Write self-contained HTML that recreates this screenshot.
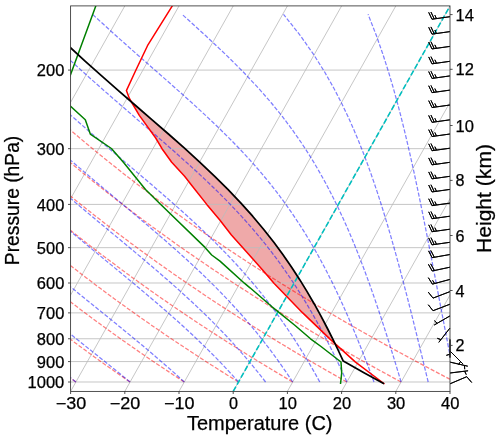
<!DOCTYPE html><html><head><meta charset="utf-8"><title>Skew-T</title><style>html,body{margin:0;padding:0;background:#fff;overflow:hidden}svg{display:block;will-change:transform}</style></head><body><svg width="500" height="439" viewBox="0 0 500 439"><defs><clipPath id="ax"><rect x="70.6" y="5.9" width="379.4" height="385.5"/></clipPath><clipPath id="bb"><rect x="412.06" y="-24.94" width="75.88" height="447.18"/></clipPath></defs><rect width="500" height="439" fill="#fff"/><g clip-path="url(#ax)"><path d="M334.95,343.55 L334.91,343.47 L334.82,343.27 L334.72,343.08 L334.63,342.88 L334.53,342.69 L334.44,342.49 L334.34,342.3 L334.25,342.1 L334.16,341.9 L334.06,341.71 L333.97,341.51 L333.87,341.32 L333.78,341.12 L333.68,340.93 L333.59,340.73 L333.49,340.54 L333.4,340.34 L333.31,340.14 L333.21,339.95 L333.12,339.75 L333.02,339.56 L332.95,339.4 L332.93,339.36 L332.83,339.17 L332.73,338.97 L332.7,338.9 L332.63,338.78 L332.53,338.58 L332.44,338.38 L332.34,338.19 L332.24,337.99 L332.14,337.8 L332.04,337.6 L331.94,337.41 L331.85,337.21 L331.75,337.02 L331.65,336.82 L331.55,336.62 L331.45,336.43 L331.35,336.23 L331.26,336.04 L331.16,335.84 L331.06,335.65 L330.96,335.45 L330.86,335.25 L330.76,335.06 L330.67,334.86 L330.57,334.67 L330.47,334.47 L330.37,334.28 L330.27,334.08 L330.17,333.89 L330.08,333.69 L329.98,333.49 L329.88,333.3 L329.78,333.1 L329.68,332.91 L329.58,332.71 L329.49,332.52 L329.39,332.32 L329.29,332.13 L329.19,331.93 L329.09,331.73 L328.99,331.54 L328.9,331.34 L328.8,331.15 L328.7,330.95 L328.6,330.76 L328.5,330.56 L328.4,330.36 L328.3,330.17 L328.21,329.97 L328.11,329.78 L328.01,329.58 L327.91,329.39 L327.81,329.19 L327.71,329 L327.62,328.8 L327.52,328.6 L327.42,328.41 L327.32,328.21 L327.22,328.02 L327.21,328 L327.12,327.82 L327.02,327.63 L326.91,327.43 L326.81,327.24 L326.71,327.04 L326.61,326.84 L326.5,326.65 L326.4,326.45 L326.3,326.26 L326.19,326.06 L326.09,325.87 L325.99,325.67 L325.89,325.47 L325.78,325.28 L325.68,325.08 L325.58,324.89 L325.48,324.69 L325.37,324.5 L325.27,324.3 L325.17,324.11 L325.06,323.91 L324.96,323.71 L324.86,323.52 L324.76,323.32 L324.65,323.13 L324.55,322.93 L324.45,322.74 L324.34,322.54 L324.24,322.35 L324.14,322.15 L324.04,321.95 L323.93,321.76 L323.83,321.56 L323.73,321.37 L323.62,321.17 L323.52,320.98 L323.42,320.78 L323.32,320.58 L323.21,320.39 L323.11,320.19 L323.01,320 L322.9,319.8 L322.8,319.61 L322.7,319.41 L322.6,319.22 L322.49,319.02 L322.39,318.82 L322.29,318.63 L322.18,318.43 L322.08,318.24 L321.98,318.04 L321.88,317.85 L321.77,317.65 L321.67,317.46 L321.57,317.26 L321.46,317.06 L321.36,316.87 L321.26,316.67 L321.16,316.48 L321.05,316.28 L320.95,316.09 L320.85,315.9 L320.85,315.89 L320.74,315.69 L320.63,315.5 L320.52,315.3 L320.42,315.11 L320.31,314.91 L320.2,314.72 L320.09,314.52 L319.98,314.33 L319.88,314.13 L319.77,313.93 L319.66,313.74 L319.55,313.54 L319.44,313.35 L319.34,313.15 L319.23,312.96 L319.12,312.76 L319.01,312.57 L318.92,312.4 L318.9,312.37 L318.8,312.17 L318.69,311.98 L318.58,311.78 L318.47,311.59 L318.36,311.39 L318.26,311.2 L318.15,311 L318.04,310.8 L317.93,310.61 L317.83,310.41 L317.72,310.22 L317.61,310.02 L317.5,309.83 L317.39,309.63 L317.29,309.44 L317.18,309.24 L317.07,309.04 L316.96,308.85 L316.85,308.65 L316.75,308.46 L316.64,308.26 L316.53,308.07 L316.42,307.87 L316.31,307.68 L316.21,307.48 L316.1,307.28 L315.99,307.09 L315.88,306.89 L315.77,306.7 L315.67,306.5 L315.56,306.31 L315.45,306.11 L315.34,305.91 L315.24,305.72 L315.13,305.52 L315.02,305.33 L314.91,305.13 L314.8,304.94 L314.7,304.74 L314.59,304.55 L314.48,304.35 L314.4,304.2 L314.37,304.15 L314.26,303.96 L314.14,303.76 L314.03,303.57 L313.92,303.37 L313.8,303.18 L313.69,302.98 L313.57,302.79 L313.46,302.59 L313.35,302.39 L313.23,302.2 L313.12,302 L313.01,301.81 L312.89,301.61 L312.78,301.42 L312.67,301.22 L312.55,301.03 L312.44,300.83 L312.32,300.63 L312.21,300.44 L312.1,300.24 L311.98,300.05 L311.87,299.85 L311.76,299.66 L311.64,299.46 L311.53,299.26 L311.41,299.07 L311.3,298.87 L311.19,298.68 L311.07,298.48 L310.96,298.29 L310.85,298.09 L310.73,297.9 L310.62,297.7 L310.51,297.5 L310.39,297.31 L310.28,297.11 L310.16,296.92 L310.05,296.72 L309.94,296.53 L309.82,296.33 L309.71,296.14 L309.6,295.94 L309.48,295.74 L309.37,295.55 L309.25,295.35 L309.14,295.16 L309.03,294.96 L308.91,294.77 L308.8,294.57 L308.69,294.37 L308.57,294.18 L308.46,293.98 L308.35,293.79 L308.23,293.59 L308.12,293.4 L308,293.2 L307.89,293.01 L307.78,292.81 L307.66,292.61 L307.55,292.42 L307.44,292.22 L307.32,292.03 L307.21,291.83 L307.09,291.64 L307.07,291.6 L306.98,291.44 L306.86,291.25 L306.73,291.05 L306.61,290.85 L306.49,290.66 L306.37,290.46 L306.25,290.27 L306.13,290.07 L306.01,289.88 L305.89,289.68 L305.77,289.48 L305.65,289.29 L305.53,289.09 L305.41,288.9 L305.29,288.7 L305.17,288.51 L305.05,288.31 L304.93,288.12 L304.81,287.92 L304.69,287.72 L304.57,287.53 L304.45,287.33 L304.33,287.14 L304.21,286.94 L304.09,286.75 L303.97,286.55 L303.85,286.36 L303.73,286.16 L303.61,285.96 L303.49,285.77 L303.37,285.57 L303.25,285.38 L303.13,285.18 L303.01,284.99 L302.89,284.79 L302.77,284.59 L302.65,284.4 L302.53,284.2 L302.41,284.01 L302.29,283.81 L302.17,283.62 L302.09,283.5 L302.05,283.42 L301.93,283.23 L301.8,283.03 L301.68,282.83 L301.56,282.64 L301.44,282.44 L301.32,282.25 L301.2,282.05 L301.08,281.86 L300.96,281.66 L300.84,281.47 L300.72,281.27 L300.6,281.07 L300.48,280.88 L300.36,280.68 L300.24,280.49 L300.12,280.29 L300,280.1 L299.88,279.9 L299.76,279.7 L299.64,279.51 L299.57,279.4 L299.52,279.31 L299.39,279.12 L299.26,278.92 L299.13,278.73 L299.01,278.53 L298.88,278.34 L298.75,278.14 L298.63,277.94 L298.5,277.75 L298.37,277.55 L298.24,277.36 L298.12,277.16 L297.99,276.97 L297.86,276.77 L297.73,276.58 L297.61,276.38 L297.48,276.18 L297.35,275.99 L297.22,275.79 L297.1,275.6 L296.97,275.4 L296.84,275.21 L296.71,275.01 L296.59,274.81 L296.46,274.62 L296.33,274.42 L296.2,274.23 L296.08,274.03 L295.95,273.84 L295.82,273.64 L295.7,273.45 L295.57,273.25 L295.44,273.05 L295.31,272.86 L295.19,272.66 L295.06,272.47 L294.93,272.27 L294.8,272.08 L294.68,271.88 L294.55,271.69 L294.42,271.49 L294.29,271.29 L294.17,271.1 L294.04,270.9 L293.91,270.71 L293.78,270.51 L293.66,270.32 L293.53,270.12 L293.45,270 L293.4,269.92 L293.27,269.73 L293.15,269.53 L293.02,269.34 L292.89,269.14 L292.77,268.95 L292.64,268.75 L292.51,268.56 L292.38,268.36 L292.26,268.16 L292.13,267.97 L292,267.77 L291.87,267.58 L291.75,267.38 L291.63,267.2 L291.62,267.19 L291.48,266.99 L291.35,266.8 L291.21,266.6 L291.08,266.4 L290.94,266.21 L290.81,266.01 L290.67,265.82 L290.53,265.62 L290.4,265.43 L290.26,265.23 L290.13,265.04 L289.99,264.84 L289.86,264.64 L289.72,264.45 L289.59,264.25 L289.45,264.06 L289.32,263.86 L289.18,263.67 L289.05,263.47 L288.91,263.27 L288.77,263.08 L288.64,262.88 L288.5,262.69 L288.37,262.49 L288.23,262.3 L288.1,262.1 L287.96,261.91 L287.83,261.71 L287.69,261.51 L287.56,261.32 L287.42,261.12 L287.29,260.93 L287.15,260.73 L287.01,260.54 L286.88,260.34 L286.74,260.15 L286.61,259.95 L286.47,259.75 L286.34,259.56 L286.2,259.36 L286.09,259.2 L286.07,259.17 L285.93,258.97 L285.8,258.78 L285.66,258.58 L285.52,258.38 L285.39,258.19 L285.25,257.99 L285.12,257.8 L284.98,257.6 L284.85,257.41 L284.71,257.21 L284.58,257.02 L284.44,256.82 L284.31,256.62 L284.17,256.43 L284.04,256.23 L283.9,256.04 L283.76,255.84 L283.63,255.65 L283.49,255.45 L283.36,255.26 L283.22,255.06 L283.09,254.86 L282.95,254.67 L282.84,254.5 L282.82,254.47 L282.67,254.28 L282.53,254.08 L282.38,253.89 L282.24,253.69 L282.09,253.49 L281.95,253.3 L281.81,253.1 L281.66,252.91 L281.52,252.71 L281.37,252.52 L281.23,252.32 L281.09,252.13 L280.94,251.93 L280.8,251.73 L280.65,251.54 L280.51,251.34 L280.36,251.15 L280.22,250.95 L280.08,250.76 L279.93,250.56 L279.79,250.37 L279.64,250.17 L279.5,249.97 L279.36,249.78 L279.21,249.58 L279.07,249.39 L278.92,249.19 L278.78,249 L278.64,248.8 L278.49,248.6 L278.35,248.41 L278.2,248.21 L278.06,248.02 L277.91,247.82 L277.77,247.63 L277.63,247.43 L277.6,247.4 L277.48,247.24 L277.34,247.04 L277.19,246.84 L277.05,246.65 L276.91,246.45 L276.76,246.26 L276.62,246.06 L276.47,245.87 L276.33,245.67 L276.18,245.48 L276.04,245.28 L275.9,245.08 L275.75,244.89 L275.61,244.69 L275.46,244.5 L275.32,244.3 L275.18,244.11 L275.03,243.91 L274.89,243.71 L274.74,243.52 L274.6,243.32 L274.45,243.13 L274.31,242.93 L274.17,242.74 L274.02,242.54 L273.88,242.35 L273.84,242.3 L273.73,242.15 L273.57,241.95 L273.42,241.76 L273.27,241.56 L273.11,241.37 L272.96,241.17 L272.8,240.98 L272.65,240.78 L272.5,240.59 L272.34,240.39 L272.19,240.19 L272.04,240 L271.88,239.8 L271.73,239.61 L271.57,239.41 L271.42,239.22 L271.27,239.02 L271.11,238.82 L270.96,238.63 L270.81,238.43 L270.65,238.24 L270.5,238.04 L270.35,237.85 L270.19,237.65 L270.04,237.46 L269.88,237.26 L269.73,237.06 L269.58,236.87 L269.42,236.67 L269.27,236.48 L269.12,236.28 L268.96,236.09 L268.81,235.89 L268.65,235.7 L268.5,235.5 L268.35,235.3 L268.19,235.11 L268.11,235 L268.04,234.91 L267.89,234.72 L267.73,234.52 L267.58,234.33 L267.42,234.13 L267.27,233.93 L267.12,233.74 L266.96,233.54 L266.81,233.35 L266.66,233.15 L266.5,232.96 L266.35,232.76 L266.2,232.57 L266.04,232.37 L265.89,232.17 L265.73,231.98 L265.58,231.78 L265.43,231.59 L265.27,231.39 L265.12,231.2 L264.97,231 L264.81,230.81 L264.66,230.61 L264.5,230.41 L264.35,230.22 L264.2,230.02 L264.04,229.83 L263.89,229.63 L263.74,229.44 L263.58,229.24 L263.55,229.2 L263.42,229.05 L263.26,228.85 L263.09,228.65 L262.93,228.46 L262.76,228.26 L262.6,228.07 L262.44,227.87 L262.27,227.68 L262.11,227.48 L261.94,227.28 L261.78,227.09 L261.61,226.89 L261.45,226.7 L261.29,226.5 L261.12,226.31 L260.96,226.11 L260.79,225.92 L260.63,225.72 L260.47,225.52 L260.3,225.33 L260.14,225.13 L259.97,224.94 L259.81,224.74 L259.64,224.55 L259.48,224.35 L259.32,224.16 L259.15,223.96 L258.99,223.76 L258.82,223.57 L258.66,223.37 L258.5,223.18 L258.33,222.98 L258.17,222.79 L258,222.59 L257.84,222.39 L257.67,222.2 L257.51,222 L257.35,221.81 L257.18,221.61 L257.02,221.42 L256.85,221.22 L256.69,221.03 L256.53,220.83 L256.36,220.63 L256.2,220.44 L256.03,220.24 L255.87,220.05 L255.7,219.85 L255.66,219.8 L255.54,219.66 L255.38,219.46 L255.21,219.27 L255.05,219.07 L254.88,218.87 L254.72,218.68 L254.56,218.48 L254.39,218.29 L254.23,218.09 L254.06,217.9 L253.9,217.7 L253.73,217.5 L253.57,217.31 L253.41,217.11 L253.24,216.92 L253.08,216.72 L252.91,216.53 L252.75,216.33 L252.64,216.2 L252.58,216.14 L252.41,215.94 L252.23,215.74 L252.06,215.55 L251.88,215.35 L251.71,215.16 L251.53,214.96 L251.36,214.77 L251.18,214.57 L251.01,214.38 L250.83,214.18 L250.66,213.98 L250.48,213.79 L250.31,213.59 L250.13,213.4 L249.96,213.2 L249.78,213.01 L249.61,212.81 L249.43,212.61 L249.26,212.42 L249.08,212.22 L248.91,212.03 L248.73,211.83 L248.56,211.64 L248.38,211.44 L248.21,211.25 L248.03,211.05 L247.86,210.85 L247.68,210.66 L247.51,210.46 L247.33,210.27 L247.16,210.07 L246.98,209.88 L246.81,209.68 L246.63,209.49 L246.46,209.29 L246.28,209.09 L246.11,208.9 L245.93,208.7 L245.76,208.51 L245.58,208.31 L245.41,208.12 L245.23,207.92 L245.06,207.72 L244.88,207.53 L244.71,207.33 L244.53,207.14 L244.36,206.94 L244.18,206.75 L244.01,206.55 L243.83,206.36 L243.66,206.16 L243.48,205.96 L243.31,205.77 L243.13,205.57 L242.96,205.38 L242.79,205.18 L242.61,204.99 L242.44,204.79 L242.26,204.6 L242.09,204.4 L242.09,204.4 L241.91,204.2 L241.74,204.01 L241.56,203.81 L241.39,203.62 L241.21,203.42 L241.04,203.23 L240.92,203.1 L240.86,203.03 L240.67,202.83 L240.48,202.64 L240.3,202.44 L240.11,202.25 L239.93,202.05 L239.74,201.86 L239.55,201.66 L239.37,201.47 L239.18,201.27 L239,201.07 L238.81,200.88 L238.62,200.68 L238.44,200.49 L238.25,200.29 L238.07,200.1 L237.88,199.9 L237.69,199.71 L237.51,199.51 L237.32,199.31 L237.14,199.12 L236.95,198.92 L236.76,198.73 L236.58,198.53 L236.39,198.34 L236.21,198.14 L236.02,197.94 L235.83,197.75 L235.65,197.55 L235.46,197.36 L235.28,197.16 L235.09,196.97 L234.9,196.77 L234.72,196.58 L234.53,196.38 L234.35,196.18 L234.16,195.99 L233.97,195.79 L233.79,195.6 L233.6,195.4 L233.41,195.21 L233.23,195.01 L233.04,194.82 L232.86,194.62 L232.67,194.42 L232.48,194.23 L232.3,194.03 L232.11,193.84 L231.93,193.64 L231.74,193.45 L231.55,193.25 L231.37,193.06 L231.18,192.86 L231,192.66 L230.81,192.47 L230.62,192.27 L230.44,192.08 L230.25,191.88 L230.07,191.69 L229.88,191.49 L229.69,191.29 L229.51,191.1 L229.32,190.9 L229.14,190.71 L228.95,190.51 L228.76,190.32 L228.58,190.12 L228.39,189.93 L228.21,189.73 L228.02,189.53 L227.89,189.4 L227.83,189.34 L227.63,189.14 L227.44,188.95 L227.24,188.75 L227.04,188.56 L226.85,188.36 L226.65,188.17 L226.45,187.97 L226.26,187.77 L226.06,187.58 L225.86,187.38 L225.67,187.19 L225.47,186.99 L225.27,186.8 L225.08,186.6 L224.88,186.4 L224.68,186.21 L224.49,186.01 L224.29,185.82 L224.27,185.8 L224.09,185.62 L223.9,185.43 L223.7,185.23 L223.5,185.04 L223.31,184.84 L223.11,184.64 L222.91,184.45 L222.72,184.25 L222.52,184.06 L222.32,183.86 L222.13,183.67 L221.93,183.47 L221.73,183.28 L221.54,183.08 L221.34,182.88 L221.14,182.69 L220.95,182.49 L220.75,182.3 L220.55,182.1 L220.36,181.91 L220.16,181.71 L219.96,181.51 L219.77,181.32 L219.57,181.12 L219.37,180.93 L219.18,180.73 L218.98,180.54 L218.78,180.34 L218.59,180.15 L218.39,179.95 L218.19,179.75 L218,179.56 L217.8,179.36 L217.6,179.17 L217.41,178.97 L217.21,178.78 L217.01,178.58 L216.82,178.39 L216.62,178.19 L216.42,177.99 L216.23,177.8 L216.03,177.6 L215.83,177.41 L215.64,177.21 L215.44,177.02 L215.24,176.82 L215.05,176.62 L214.85,176.43 L214.72,176.3 L214.72,176.3 L214.65,176.23 L214.44,176.04 L214.24,175.84 L214.03,175.65 L213.83,175.45 L213.62,175.26 L213.41,175.06 L213.21,174.86 L213,174.67 L212.79,174.47 L212.59,174.28 L212.38,174.08 L212.17,173.89 L211.97,173.69 L211.76,173.5 L211.56,173.3 L211.35,173.1 L211.14,172.91 L210.94,172.71 L210.73,172.52 L210.52,172.32 L210.32,172.13 L210.11,171.93 L209.91,171.73 L209.7,171.54 L209.49,171.34 L209.29,171.15 L209.08,170.95 L208.87,170.76 L208.67,170.56 L208.46,170.37 L208.25,170.17 L208.05,169.97 L207.84,169.78 L207.64,169.58 L207.43,169.39 L207.22,169.19 L207.02,169 L206.81,168.8 L206.6,168.61 L206.4,168.41 L206.19,168.21 L205.98,168.02 L205.78,167.82 L205.57,167.63 L205.37,167.43 L205.16,167.24 L204.95,167.04 L204.75,166.84 L204.54,166.65 L204.33,166.45 L204.13,166.26 L203.92,166.06 L203.71,165.87 L203.51,165.67 L203.3,165.48 L203.1,165.28 L202.89,165.08 L202.68,164.89 L202.48,164.69 L202.27,164.5 L202.06,164.3 L201.86,164.11 L201.65,163.91 L201.45,163.72 L201.24,163.52 L201.03,163.32 L200.83,163.13 L200.62,162.93 L200.41,162.74 L200.21,162.54 L200,162.35 L199.95,162.3 L199.79,162.15 L199.57,161.95 L199.36,161.76 L199.14,161.56 L198.93,161.37 L198.71,161.17 L198.5,160.98 L198.28,160.78 L198.07,160.59 L197.86,160.39 L197.64,160.19 L197.43,160 L197.21,159.8 L197,159.61 L196.78,159.41 L196.57,159.22 L196.35,159.02 L196.14,158.83 L195.92,158.63 L195.71,158.43 L195.49,158.24 L195.28,158.04 L195.06,157.85 L194.85,157.65 L194.63,157.46 L194.42,157.26 L194.21,157.07 L193.99,156.87 L193.78,156.67 L193.56,156.48 L193.35,156.28 L193.13,156.09 L192.92,155.89 L192.7,155.7 L192.49,155.5 L192.27,155.3 L192.06,155.11 L191.84,154.91 L191.63,154.72 L191.41,154.52 L191.2,154.33 L190.98,154.13 L190.77,153.94 L190.56,153.74 L190.34,153.54 L190.13,153.35 L189.91,153.15 L189.7,152.96 L189.48,152.76 L189.27,152.57 L189.05,152.37 L188.84,152.18 L188.62,151.98 L188.41,151.78 L188.19,151.59 L187.98,151.39 L187.76,151.2 L187.55,151 L187.33,150.81 L187.12,150.61 L186.91,150.41 L186.69,150.22 L186.48,150.02 L186.26,149.83 L186.05,149.63 L185.83,149.44 L185.62,149.24 L185.4,149.05 L185.19,148.85 L185.02,148.7 L184.97,148.65 L184.76,148.46 L184.54,148.26 L184.47,148.2 L184.32,148.07 L184.1,147.87 L183.88,147.68 L183.66,147.48 L183.44,147.29 L183.22,147.09 L183,146.89 L182.78,146.7 L182.56,146.5 L182.34,146.31 L182.11,146.11 L181.89,145.92 L181.67,145.72 L181.45,145.52 L181.23,145.33 L181.01,145.13 L180.79,144.94 L180.57,144.74 L180.35,144.55 L180.13,144.35 L179.91,144.16 L179.68,143.96 L179.46,143.76 L179.24,143.57 L179.02,143.37 L178.8,143.18 L178.58,142.98 L178.36,142.79 L178.14,142.59 L177.92,142.4 L177.7,142.2 L177.48,142 L177.25,141.81 L177.03,141.61 L176.81,141.42 L176.59,141.22 L176.37,141.03 L176.15,140.83 L175.93,140.63 L175.71,140.44 L175.49,140.24 L175.27,140.05 L175.04,139.85 L174.82,139.66 L174.6,139.46 L174.38,139.27 L174.16,139.07 L173.94,138.87 L173.72,138.68 L173.5,138.48 L173.28,138.29 L173.06,138.09 L172.95,138 L172.84,137.9 L172.61,137.7 L172.39,137.51 L172.17,137.31 L171.95,137.11 L171.73,136.92 L171.51,136.72 L171.29,136.53 L171.07,136.33 L170.85,136.14 L170.63,135.94 L170.4,135.74 L170.18,135.55 L169.96,135.35 L169.74,135.16 L169.52,134.96 L169.3,134.77 L169.08,134.57 L168.86,134.38 L168.64,134.18 L168.43,134 L168.42,133.98 L168.19,133.79 L167.97,133.59 L167.74,133.4 L167.52,133.2 L167.29,133.01 L167.07,132.81 L166.84,132.62 L166.62,132.42 L166.39,132.22 L166.17,132.03 L165.94,131.83 L165.72,131.64 L165.49,131.44 L165.27,131.25 L165.04,131.05 L164.82,130.85 L164.59,130.66 L164.37,130.46 L164.15,130.27 L163.92,130.07 L163.7,129.88 L163.47,129.68 L163.25,129.49 L163.02,129.29 L162.8,129.09 L162.57,128.9 L162.35,128.7 L162.12,128.51 L161.9,128.31 L161.67,128.12 L161.45,127.92 L161.22,127.73 L161,127.53 L160.77,127.33 L160.55,127.14 L160.32,126.94 L160.1,126.75 L159.87,126.55 L159.65,126.36 L159.42,126.16 L159.2,125.96 L158.98,125.77 L158.75,125.57 L158.53,125.38 L158.3,125.18 L158.08,124.99 L157.85,124.79 L157.63,124.6 L157.4,124.4 L157.18,124.2 L156.95,124.01 L156.73,123.81 L156.5,123.62 L156.28,123.42 L156.05,123.23 L155.83,123.03 L155.6,122.84 L155.38,122.64 L155.15,122.44 L154.93,122.25 L154.7,122.05 L154.48,121.86 L154.25,121.66 L154.03,121.47 L153.81,121.27 L153.58,121.08 L153.36,120.88 L153.13,120.68 L152.91,120.49 L152.68,120.29 L152.46,120.1 L152.23,119.9 L152.12,119.8 L152.01,119.71 L151.78,119.51 L151.55,119.31 L151.33,119.12 L151.1,118.92 L150.88,118.73 L150.65,118.53 L150.42,118.34 L150.2,118.14 L149.97,117.95 L149.74,117.75 L149.52,117.55 L149.29,117.36 L149.07,117.16 L148.84,116.97 L148.61,116.77 L148.39,116.58 L148.16,116.38 L147.93,116.19 L147.71,115.99 L147.48,115.79 L147.26,115.6 L147.03,115.4 L147.03,115.4 L146.8,115.21 L146.58,115.01 L146.35,114.82 L146.13,114.62 L145.9,114.42 L145.67,114.23 L145.45,114.03 L145.22,113.84 L144.99,113.64 L144.77,113.45 L144.54,113.25 L144.32,113.06 L144.09,112.86 L143.86,112.66 L143.64,112.47 L143.41,112.27 L143.18,112.08 L142.96,111.88 L142.73,111.69 L142.51,111.49 L142.28,111.3 L142.05,111.1 L141.83,110.9 L141.6,110.71 L141.38,110.51 L141.15,110.32 L140.92,110.12 L140.7,109.93 L140.47,109.73 L140.24,109.53 L140.02,109.34 L139.79,109.14 L139.57,108.95 L139.34,108.75 L139.11,108.56 L138.89,108.36 L138.66,108.17 L138.43,107.97 L138.21,107.77 L137.98,107.58 L137.76,107.38 L137.53,107.19 L137.3,106.99 L137.08,106.8 L136.85,106.6 L136.62,106.41 L136.4,106.21 L136.17,106.01 L135.95,105.82 L135.72,105.62 L135.49,105.43 L135.27,105.23 L135.04,105.04 L135,105 L134.82,104.84 L134.59,104.64 L134.37,104.45 L134.14,104.25 L133.91,104.06 L133.69,103.86 L133.46,103.67 L133.24,103.47 L133.01,103.28 L132.79,103.08 L132.56,102.88 L132.34,102.69 L132.11,102.49 L131.89,102.3 L131.66,102.1 L131.44,101.91 L131.35,101.84 L131.35,101.84 L131.4,101.91 L131.51,102.1 L131.62,102.3 L131.74,102.49 L131.85,102.69 L131.97,102.88 L132.08,103.08 L132.2,103.28 L132.31,103.47 L132.43,103.67 L132.54,103.86 L132.66,104.06 L132.77,104.25 L132.89,104.45 L133,104.64 L133.11,104.84 L133.21,105 L133.23,105.04 L133.34,105.23 L133.46,105.43 L133.57,105.62 L133.69,105.82 L133.8,106.01 L133.92,106.21 L134.03,106.41 L134.15,106.6 L134.26,106.8 L134.37,106.99 L134.49,107.19 L134.6,107.38 L134.72,107.58 L134.83,107.77 L134.95,107.97 L135.06,108.17 L135.18,108.36 L135.29,108.56 L135.41,108.75 L135.52,108.95 L135.63,109.14 L135.75,109.34 L135.86,109.53 L135.98,109.73 L136.09,109.93 L136.21,110.12 L136.32,110.32 L136.44,110.51 L136.55,110.71 L136.67,110.9 L136.78,111.1 L136.9,111.3 L137.01,111.49 L137.12,111.69 L137.24,111.88 L137.35,112.08 L137.47,112.27 L137.58,112.47 L137.7,112.66 L137.81,112.86 L137.93,113.06 L138.04,113.25 L138.16,113.45 L138.27,113.64 L138.38,113.84 L138.5,114.03 L138.61,114.23 L138.73,114.42 L138.84,114.62 L138.96,114.82 L139.07,115.01 L139.19,115.21 L139.3,115.4 L139.3,115.4 L139.44,115.6 L139.59,115.79 L139.73,115.99 L139.87,116.19 L140.01,116.38 L140.15,116.58 L140.3,116.77 L140.44,116.97 L140.58,117.16 L140.72,117.36 L140.86,117.55 L141.01,117.75 L141.15,117.95 L141.29,118.14 L141.43,118.34 L141.57,118.53 L141.71,118.73 L141.86,118.92 L142,119.12 L142.14,119.31 L142.28,119.51 L142.42,119.71 L142.49,119.8 L142.57,119.9 L142.71,120.1 L142.85,120.29 L142.99,120.49 L143.13,120.68 L143.28,120.88 L143.42,121.08 L143.56,121.27 L143.7,121.47 L143.84,121.66 L143.99,121.86 L144.13,122.05 L144.27,122.25 L144.41,122.44 L144.55,122.64 L144.7,122.84 L144.84,123.03 L144.98,123.23 L145.12,123.42 L145.26,123.62 L145.41,123.81 L145.55,124.01 L145.69,124.2 L145.83,124.4 L145.97,124.6 L146.11,124.79 L146.26,124.99 L146.4,125.18 L146.54,125.38 L146.68,125.57 L146.82,125.77 L146.97,125.96 L147.11,126.16 L147.25,126.36 L147.39,126.55 L147.53,126.75 L147.68,126.94 L147.82,127.14 L147.96,127.33 L148.1,127.53 L148.24,127.73 L148.39,127.92 L148.53,128.12 L148.67,128.31 L148.81,128.51 L148.95,128.7 L149.1,128.9 L149.24,129.09 L149.38,129.29 L149.52,129.49 L149.66,129.68 L149.81,129.88 L149.95,130.07 L150.09,130.27 L150.23,130.46 L150.37,130.66 L150.52,130.85 L150.66,131.05 L150.8,131.25 L150.94,131.44 L151.08,131.64 L151.22,131.83 L151.37,132.03 L151.51,132.22 L151.65,132.42 L151.79,132.62 L151.93,132.81 L152.08,133.01 L152.22,133.2 L152.36,133.4 L152.5,133.59 L152.64,133.79 L152.79,133.98 L152.8,134 L152.93,134.18 L153.07,134.38 L153.21,134.57 L153.35,134.77 L153.5,134.96 L153.64,135.16 L153.78,135.35 L153.92,135.55 L154.06,135.74 L154.21,135.94 L154.35,136.14 L154.49,136.33 L154.63,136.53 L154.77,136.72 L154.92,136.92 L155.06,137.11 L155.2,137.31 L155.34,137.51 L155.48,137.7 L155.62,137.9 L155.7,138 L155.75,138.09 L155.87,138.29 L155.98,138.48 L156.1,138.68 L156.21,138.87 L156.33,139.07 L156.45,139.27 L156.56,139.46 L156.68,139.66 L156.79,139.85 L156.91,140.05 L157.02,140.24 L157.14,140.44 L157.25,140.63 L157.37,140.83 L157.48,141.03 L157.6,141.22 L157.71,141.42 L157.83,141.61 L157.94,141.81 L158.06,142 L158.17,142.2 L158.29,142.4 L158.4,142.59 L158.52,142.79 L158.63,142.98 L158.75,143.18 L158.86,143.37 L158.98,143.57 L159.09,143.76 L159.21,143.96 L159.32,144.16 L159.44,144.35 L159.55,144.55 L159.67,144.74 L159.78,144.94 L159.9,145.13 L160.02,145.33 L160.13,145.52 L160.25,145.72 L160.36,145.92 L160.48,146.11 L160.59,146.31 L160.71,146.5 L160.82,146.7 L160.94,146.89 L161.05,147.09 L161.17,147.29 L161.28,147.48 L161.4,147.68 L161.51,147.87 L161.63,148.07 L161.71,148.2 L161.74,148.26 L161.86,148.46 L161.97,148.65 L162,148.7 L162.11,148.85 L162.25,149.05 L162.39,149.24 L162.53,149.44 L162.66,149.63 L162.8,149.83 L162.94,150.02 L163.08,150.22 L163.22,150.41 L163.36,150.61 L163.5,150.81 L163.64,151 L163.78,151.2 L163.92,151.39 L164.06,151.59 L164.2,151.78 L164.34,151.98 L164.48,152.18 L164.62,152.37 L164.76,152.57 L164.9,152.76 L165.04,152.96 L165.18,153.15 L165.32,153.35 L165.46,153.54 L165.59,153.74 L165.73,153.94 L165.87,154.13 L166.01,154.33 L166.15,154.52 L166.29,154.72 L166.43,154.91 L166.57,155.11 L166.71,155.3 L166.85,155.5 L166.99,155.7 L167.13,155.89 L167.27,156.09 L167.41,156.28 L167.55,156.48 L167.69,156.67 L167.83,156.87 L167.97,157.07 L168.11,157.26 L168.25,157.46 L168.38,157.65 L168.52,157.85 L168.66,158.04 L168.8,158.24 L168.94,158.43 L169.08,158.63 L169.22,158.83 L169.36,159.02 L169.5,159.22 L169.64,159.41 L169.78,159.61 L169.92,159.8 L170.06,160 L170.2,160.19 L170.34,160.39 L170.48,160.59 L170.62,160.78 L170.76,160.98 L170.9,161.17 L171.04,161.37 L171.17,161.56 L171.31,161.76 L171.45,161.95 L171.59,162.15 L171.7,162.3 L171.74,162.35 L171.92,162.54 L172.1,162.74 L172.28,162.93 L172.46,163.13 L172.64,163.32 L172.82,163.52 L173,163.72 L173.18,163.91 L173.36,164.11 L173.54,164.3 L173.73,164.5 L173.91,164.69 L174.09,164.89 L174.27,165.08 L174.45,165.28 L174.63,165.48 L174.81,165.67 L174.99,165.87 L175.17,166.06 L175.35,166.26 L175.53,166.45 L175.71,166.65 L175.89,166.84 L176.07,167.04 L176.25,167.24 L176.43,167.43 L176.61,167.63 L176.79,167.82 L176.97,168.02 L177.15,168.21 L177.33,168.41 L177.51,168.61 L177.69,168.8 L177.87,169 L178.05,169.19 L178.23,169.39 L178.41,169.58 L178.59,169.78 L178.77,169.97 L178.95,170.17 L179.13,170.37 L179.31,170.56 L179.49,170.76 L179.67,170.95 L179.85,171.15 L180.03,171.34 L180.21,171.54 L180.39,171.73 L180.57,171.93 L180.75,172.13 L180.93,172.32 L181.11,172.52 L181.29,172.71 L181.47,172.91 L181.66,173.1 L181.84,173.3 L182.02,173.5 L182.2,173.69 L182.38,173.89 L182.56,174.08 L182.74,174.28 L182.92,174.47 L183.1,174.67 L183.28,174.86 L183.46,175.06 L183.64,175.26 L183.82,175.45 L184,175.65 L184.18,175.84 L184.36,176.04 L184.54,176.23 L184.6,176.3 L184.6,176.3 L184.7,176.43 L184.85,176.62 L185.01,176.82 L185.16,177.02 L185.31,177.21 L185.46,177.41 L185.61,177.6 L185.77,177.8 L185.92,177.99 L186.07,178.19 L186.22,178.39 L186.38,178.58 L186.53,178.78 L186.68,178.97 L186.83,179.17 L186.99,179.36 L187.14,179.56 L187.29,179.75 L187.44,179.95 L187.6,180.15 L187.75,180.34 L187.9,180.54 L188.05,180.73 L188.2,180.93 L188.36,181.12 L188.51,181.32 L188.66,181.51 L188.81,181.71 L188.97,181.91 L189.12,182.1 L189.27,182.3 L189.42,182.49 L189.58,182.69 L189.73,182.88 L189.88,183.08 L190.03,183.28 L190.19,183.47 L190.34,183.67 L190.49,183.86 L190.64,184.06 L190.8,184.25 L190.95,184.45 L191.1,184.64 L191.25,184.84 L191.4,185.04 L191.56,185.23 L191.71,185.43 L191.86,185.62 L192,185.8 L192.01,185.82 L192.17,186.01 L192.32,186.21 L192.48,186.4 L192.63,186.6 L192.79,186.8 L192.94,186.99 L193.1,187.19 L193.26,187.38 L193.41,187.58 L193.57,187.77 L193.72,187.97 L193.88,188.17 L194.03,188.36 L194.19,188.56 L194.34,188.75 L194.5,188.95 L194.65,189.14 L194.81,189.34 L194.85,189.4 L194.96,189.53 L195.12,189.73 L195.27,189.93 L195.43,190.12 L195.58,190.32 L195.74,190.51 L195.89,190.71 L196.05,190.9 L196.2,191.1 L196.36,191.29 L196.51,191.49 L196.67,191.69 L196.82,191.88 L196.98,192.08 L197.13,192.27 L197.29,192.47 L197.44,192.66 L197.6,192.86 L197.75,193.06 L197.91,193.25 L198.06,193.45 L198.22,193.64 L198.37,193.84 L198.53,194.03 L198.68,194.23 L198.84,194.42 L198.99,194.62 L199.15,194.82 L199.3,195.01 L199.46,195.21 L199.61,195.4 L199.77,195.6 L199.92,195.79 L200.08,195.99 L200.24,196.18 L200.39,196.38 L200.55,196.58 L200.7,196.77 L200.86,196.97 L201.01,197.16 L201.17,197.36 L201.32,197.55 L201.48,197.75 L201.63,197.94 L201.79,198.14 L201.94,198.34 L202.1,198.53 L202.25,198.73 L202.41,198.92 L202.56,199.12 L202.72,199.31 L202.87,199.51 L203.03,199.71 L203.18,199.9 L203.34,200.1 L203.49,200.29 L203.65,200.49 L203.8,200.68 L203.96,200.88 L204.11,201.07 L204.27,201.27 L204.42,201.47 L204.58,201.66 L204.73,201.86 L204.89,202.05 L205.04,202.25 L205.2,202.44 L205.35,202.64 L205.51,202.83 L205.66,203.03 L205.72,203.1 L205.82,203.23 L205.97,203.42 L206.13,203.62 L206.28,203.81 L206.44,204.01 L206.59,204.2 L206.75,204.4 L206.75,204.4 L206.91,204.6 L207.08,204.79 L207.24,204.99 L207.4,205.18 L207.57,205.38 L207.73,205.57 L207.89,205.77 L208.06,205.96 L208.22,206.16 L208.38,206.36 L208.55,206.55 L208.71,206.75 L208.87,206.94 L209.03,207.14 L209.2,207.33 L209.36,207.53 L209.52,207.72 L209.69,207.92 L209.85,208.12 L210.01,208.31 L210.18,208.51 L210.34,208.7 L210.5,208.9 L210.67,209.09 L210.83,209.29 L210.99,209.49 L211.16,209.68 L211.32,209.88 L211.48,210.07 L211.65,210.27 L211.81,210.46 L211.97,210.66 L212.14,210.85 L212.3,211.05 L212.46,211.25 L212.63,211.44 L212.79,211.64 L212.95,211.83 L213.11,212.03 L213.28,212.22 L213.44,212.42 L213.6,212.61 L213.77,212.81 L213.93,213.01 L214.09,213.2 L214.26,213.4 L214.42,213.59 L214.58,213.79 L214.75,213.98 L214.91,214.18 L215.07,214.38 L215.24,214.57 L215.4,214.77 L215.56,214.96 L215.73,215.16 L215.89,215.35 L216.05,215.55 L216.22,215.74 L216.38,215.94 L216.54,216.14 L216.6,216.2 L216.71,216.33 L216.87,216.53 L217.03,216.72 L217.2,216.92 L217.36,217.11 L217.52,217.31 L217.68,217.5 L217.85,217.7 L218.01,217.9 L218.17,218.09 L218.34,218.29 L218.5,218.48 L218.66,218.68 L218.83,218.87 L218.99,219.07 L219.15,219.27 L219.32,219.46 L219.48,219.66 L219.6,219.8 L219.64,219.85 L219.79,220.05 L219.94,220.24 L220.1,220.44 L220.25,220.63 L220.4,220.83 L220.55,221.03 L220.7,221.22 L220.86,221.42 L221.01,221.61 L221.16,221.81 L221.31,222 L221.46,222.2 L221.61,222.39 L221.77,222.59 L221.92,222.79 L222.07,222.98 L222.22,223.18 L222.37,223.37 L222.53,223.57 L222.68,223.76 L222.83,223.96 L222.98,224.16 L223.13,224.35 L223.28,224.55 L223.44,224.74 L223.59,224.94 L223.74,225.13 L223.89,225.33 L224.04,225.52 L224.2,225.72 L224.35,225.92 L224.5,226.11 L224.65,226.31 L224.8,226.5 L224.95,226.7 L225.11,226.89 L225.26,227.09 L225.41,227.28 L225.56,227.48 L225.71,227.68 L225.87,227.87 L226.02,228.07 L226.17,228.26 L226.32,228.46 L226.47,228.65 L226.63,228.85 L226.78,229.05 L226.9,229.2 L226.93,229.24 L227.08,229.44 L227.23,229.63 L227.38,229.83 L227.54,230.02 L227.69,230.22 L227.84,230.41 L227.99,230.61 L228.14,230.81 L228.3,231 L228.45,231.2 L228.6,231.39 L228.75,231.59 L228.9,231.78 L229.05,231.98 L229.21,232.17 L229.36,232.37 L229.51,232.57 L229.66,232.76 L229.81,232.96 L229.97,233.15 L230.12,233.35 L230.27,233.54 L230.42,233.74 L230.57,233.93 L230.73,234.13 L230.88,234.33 L231.03,234.52 L231.18,234.72 L231.33,234.91 L231.4,235 L231.5,235.11 L231.67,235.3 L231.85,235.5 L232.03,235.7 L232.2,235.89 L232.38,236.09 L232.56,236.28 L232.73,236.48 L232.91,236.67 L233.09,236.87 L233.26,237.06 L233.44,237.26 L233.62,237.46 L233.79,237.65 L233.97,237.85 L234.15,238.04 L234.32,238.24 L234.5,238.43 L234.68,238.63 L234.85,238.82 L235.03,239.02 L235.21,239.22 L235.38,239.41 L235.56,239.61 L235.74,239.8 L235.91,240 L236.09,240.19 L236.27,240.39 L236.44,240.59 L236.62,240.78 L236.8,240.98 L236.97,241.17 L237.15,241.37 L237.33,241.56 L237.5,241.76 L237.68,241.95 L237.86,242.15 L237.99,242.3 L238.03,242.35 L238.21,242.54 L238.39,242.74 L238.56,242.93 L238.74,243.13 L238.92,243.32 L239.09,243.52 L239.27,243.71 L239.45,243.91 L239.62,244.11 L239.8,244.3 L239.98,244.5 L240.15,244.69 L240.33,244.89 L240.51,245.08 L240.68,245.28 L240.86,245.48 L241.04,245.67 L241.21,245.87 L241.39,246.06 L241.57,246.26 L241.74,246.45 L241.92,246.65 L242.1,246.84 L242.27,247.04 L242.45,247.24 L242.6,247.4 L242.63,247.43 L242.8,247.63 L242.98,247.82 L243.15,248.02 L243.32,248.21 L243.5,248.41 L243.67,248.6 L243.85,248.8 L244.02,249 L244.19,249.19 L244.37,249.39 L244.54,249.58 L244.72,249.78 L244.89,249.97 L245.06,250.17 L245.24,250.37 L245.41,250.56 L245.59,250.76 L245.76,250.95 L245.93,251.15 L246.11,251.34 L246.28,251.54 L246.46,251.73 L246.63,251.93 L246.8,252.13 L246.98,252.32 L247.15,252.52 L247.33,252.71 L247.5,252.91 L247.68,253.1 L247.85,253.3 L248.02,253.49 L248.2,253.69 L248.37,253.89 L248.55,254.08 L248.72,254.28 L248.89,254.47 L248.92,254.5 L249.07,254.67 L249.24,254.86 L249.42,255.06 L249.59,255.26 L249.76,255.45 L249.94,255.65 L250.11,255.84 L250.29,256.04 L250.46,256.23 L250.63,256.43 L250.81,256.62 L250.98,256.82 L251.16,257.02 L251.33,257.21 L251.5,257.41 L251.68,257.6 L251.85,257.8 L252.03,257.99 L252.2,258.19 L252.37,258.38 L252.55,258.58 L252.72,258.78 L252.9,258.97 L253.07,259.17 L253.1,259.2 L253.24,259.36 L253.42,259.56 L253.59,259.75 L253.76,259.95 L253.93,260.15 L254.1,260.34 L254.28,260.54 L254.45,260.73 L254.62,260.93 L254.79,261.12 L254.96,261.32 L255.14,261.51 L255.31,261.71 L255.48,261.91 L255.65,262.1 L255.82,262.3 L256,262.49 L256.17,262.69 L256.34,262.88 L256.51,263.08 L256.68,263.27 L256.86,263.47 L257.03,263.67 L257.2,263.86 L257.37,264.06 L257.54,264.25 L257.72,264.45 L257.89,264.64 L258.06,264.84 L258.23,265.04 L258.4,265.23 L258.58,265.43 L258.75,265.62 L258.92,265.82 L259.09,266.01 L259.26,266.21 L259.44,266.4 L259.61,266.6 L259.78,266.8 L259.95,266.99 L260.13,267.19 L260.14,267.2 L260.3,267.38 L260.47,267.58 L260.64,267.77 L260.81,267.97 L260.99,268.16 L261.16,268.36 L261.33,268.56 L261.5,268.75 L261.67,268.95 L261.85,269.14 L262.02,269.34 L262.19,269.53 L262.36,269.73 L262.53,269.92 L262.6,270 L262.7,270.12 L262.87,270.32 L263.04,270.51 L263.21,270.71 L263.38,270.9 L263.54,271.1 L263.71,271.29 L263.88,271.49 L264.05,271.69 L264.22,271.88 L264.38,272.08 L264.55,272.27 L264.72,272.47 L264.89,272.66 L265.06,272.86 L265.22,273.05 L265.39,273.25 L265.56,273.45 L265.73,273.64 L265.9,273.84 L266.06,274.03 L266.23,274.23 L266.4,274.42 L266.57,274.62 L266.74,274.81 L266.91,275.01 L267.07,275.21 L267.24,275.4 L267.41,275.6 L267.58,275.79 L267.75,275.99 L267.91,276.18 L268.08,276.38 L268.25,276.58 L268.42,276.77 L268.59,276.97 L268.75,277.16 L268.92,277.36 L269.09,277.55 L269.26,277.75 L269.43,277.94 L269.59,278.14 L269.76,278.34 L269.93,278.53 L270.1,278.73 L270.27,278.92 L270.43,279.12 L270.6,279.31 L270.68,279.4 L270.77,279.51 L270.94,279.7 L271.11,279.9 L271.28,280.1 L271.44,280.29 L271.61,280.49 L271.78,280.68 L271.95,280.88 L272.12,281.07 L272.28,281.27 L272.45,281.47 L272.62,281.66 L272.79,281.86 L272.96,282.05 L273.12,282.25 L273.29,282.44 L273.46,282.64 L273.63,282.83 L273.8,283.03 L273.96,283.23 L274.13,283.42 L274.2,283.5 L274.31,283.62 L274.5,283.81 L274.69,284.01 L274.88,284.2 L275.07,284.4 L275.26,284.59 L275.45,284.79 L275.64,284.99 L275.83,285.18 L276.02,285.38 L276.21,285.57 L276.4,285.77 L276.59,285.96 L276.78,286.16 L276.97,286.36 L277.16,286.55 L277.35,286.75 L277.53,286.94 L277.72,287.14 L277.91,287.33 L278.1,287.53 L278.29,287.72 L278.48,287.92 L278.67,288.12 L278.86,288.31 L279.05,288.51 L279.24,288.7 L279.43,288.9 L279.62,289.09 L279.81,289.29 L280,289.48 L280.19,289.68 L280.38,289.88 L280.57,290.07 L280.76,290.27 L280.95,290.46 L281.14,290.66 L281.32,290.85 L281.51,291.05 L281.7,291.25 L281.89,291.44 L282.05,291.6 L282.08,291.64 L282.27,291.83 L282.46,292.03 L282.65,292.22 L282.84,292.42 L283.03,292.61 L283.22,292.81 L283.41,293.01 L283.6,293.2 L283.79,293.4 L283.98,293.59 L284.17,293.79 L284.36,293.98 L284.55,294.18 L284.74,294.37 L284.93,294.57 L285.12,294.77 L285.3,294.96 L285.49,295.16 L285.68,295.35 L285.87,295.55 L286.06,295.74 L286.25,295.94 L286.44,296.14 L286.63,296.33 L286.82,296.53 L287.01,296.72 L287.2,296.92 L287.39,297.11 L287.58,297.31 L287.77,297.5 L287.96,297.7 L288.15,297.9 L288.34,298.09 L288.53,298.29 L288.72,298.48 L288.91,298.68 L289.09,298.87 L289.28,299.07 L289.47,299.26 L289.66,299.46 L289.85,299.66 L290.04,299.85 L290.23,300.05 L290.42,300.24 L290.61,300.44 L290.8,300.63 L290.99,300.83 L291.18,301.03 L291.37,301.22 L291.56,301.42 L291.75,301.61 L291.94,301.81 L292.13,302 L292.32,302.2 L292.51,302.39 L292.7,302.59 L292.88,302.79 L293.07,302.98 L293.26,303.18 L293.45,303.37 L293.64,303.57 L293.83,303.76 L294.02,303.96 L294.21,304.15 L294.26,304.2 L294.4,304.35 L294.59,304.55 L294.78,304.74 L294.97,304.94 L295.16,305.13 L295.35,305.33 L295.54,305.52 L295.73,305.72 L295.92,305.91 L296.11,306.11 L296.3,306.31 L296.49,306.5 L296.67,306.7 L296.86,306.89 L297.05,307.09 L297.24,307.28 L297.43,307.48 L297.62,307.68 L297.81,307.87 L298,308.07 L298.19,308.26 L298.38,308.46 L298.57,308.65 L298.76,308.85 L298.95,309.04 L299.14,309.24 L299.33,309.44 L299.52,309.63 L299.71,309.83 L299.9,310.02 L300.09,310.22 L300.28,310.41 L300.47,310.61 L300.65,310.8 L300.84,311 L301.03,311.2 L301.22,311.39 L301.41,311.59 L301.6,311.78 L301.79,311.98 L301.98,312.17 L302.17,312.37 L302.2,312.4 L302.37,312.57 L302.58,312.76 L302.78,312.96 L302.98,313.15 L303.19,313.35 L303.39,313.54 L303.59,313.74 L303.8,313.93 L304,314.13 L304.21,314.33 L304.41,314.52 L304.61,314.72 L304.82,314.91 L305.02,315.11 L305.22,315.3 L305.43,315.5 L305.63,315.69 L305.84,315.89 L305.85,315.9 L306.04,316.09 L306.24,316.28 L306.45,316.48 L306.65,316.67 L306.85,316.87 L307.06,317.06 L307.26,317.26 L307.47,317.46 L307.67,317.65 L307.87,317.85 L308.08,318.04 L308.28,318.24 L308.48,318.43 L308.69,318.63 L308.89,318.82 L309.09,319.02 L309.3,319.22 L309.5,319.41 L309.71,319.61 L309.91,319.8 L310.11,320 L310.32,320.19 L310.52,320.39 L310.72,320.58 L310.93,320.78 L311.13,320.98 L311.34,321.17 L311.54,321.37 L311.74,321.56 L311.95,321.76 L312.15,321.95 L312.35,322.15 L312.56,322.35 L312.76,322.54 L312.97,322.74 L313.17,322.93 L313.37,323.13 L313.58,323.32 L313.78,323.52 L313.98,323.71 L314.19,323.91 L314.39,324.11 L314.6,324.3 L314.8,324.5 L315,324.69 L315.21,324.89 L315.41,325.08 L315.61,325.28 L315.82,325.47 L316.02,325.67 L316.22,325.87 L316.43,326.06 L316.63,326.26 L316.84,326.45 L317.04,326.65 L317.24,326.84 L317.45,327.04 L317.65,327.24 L317.85,327.43 L318.06,327.63 L318.26,327.82 L318.45,328 L318.47,328.02 L318.67,328.21 L318.87,328.41 L319.08,328.6 L319.28,328.8 L319.48,329 L319.69,329.19 L319.89,329.39 L320.1,329.58 L320.3,329.78 L320.5,329.97 L320.71,330.17 L320.91,330.36 L321.11,330.56 L321.32,330.76 L321.52,330.95 L321.73,331.15 L321.93,331.34 L322.13,331.54 L322.34,331.73 L322.54,331.93 L322.74,332.13 L322.95,332.32 L323.15,332.52 L323.35,332.71 L323.56,332.91 L323.76,333.1 L323.97,333.3 L324.17,333.49 L324.37,333.69 L324.58,333.89 L324.78,334.08 L324.98,334.28 L325.19,334.47 L325.39,334.67 L325.6,334.86 L325.8,335.06 L326,335.25 L326.21,335.45 L326.41,335.65 L326.61,335.84 L326.82,336.04 L327.02,336.23 L327.23,336.43 L327.43,336.62 L327.63,336.82 L327.84,337.02 L328.04,337.21 L328.24,337.41 L328.45,337.6 L328.65,337.8 L328.86,337.99 L329.06,338.19 L329.26,338.38 L329.47,338.58 L329.67,338.78 L329.8,338.9 L329.88,338.97 L330.1,339.17 L330.31,339.36 L330.35,339.4 L330.53,339.56 L330.75,339.75 L330.96,339.95 L331.18,340.14 L331.4,340.34 L331.61,340.54 L331.83,340.73 L332.05,340.93 L332.26,341.12 L332.48,341.32 L332.7,341.51 L332.91,341.71 L333.13,341.9 L333.35,342.1 L333.56,342.3 L333.78,342.49 L334,342.69 L334.21,342.88 L334.43,343.08 L334.65,343.27 L334.86,343.47 L334.95,343.55Z" fill="#d62728" fill-opacity="0.4" stroke="none"/><path d="M338.55,351 L338.5,350.9 L338.41,350.71 L338.31,350.51 L338.22,350.32 L338.12,350.12 L338.03,349.92 L337.93,349.73 L337.84,349.53 L337.74,349.34 L337.65,349.14 L337.56,348.95 L337.46,348.75 L337.37,348.56 L337.27,348.36 L337.18,348.16 L337.08,347.97 L336.99,347.77 L336.89,347.58 L336.8,347.38 L336.71,347.19 L336.61,346.99 L336.52,346.79 L336.42,346.6 L336.33,346.4 L336.23,346.21 L336.14,346.01 L336.04,345.82 L335.95,345.62 L335.86,345.43 L335.76,345.23 L335.67,345.03 L335.57,344.84 L335.48,344.64 L335.38,344.45 L335.29,344.25 L335.19,344.06 L335.1,343.86 L335.01,343.67 L334.95,343.55 L334.95,343.55 L335.08,343.67 L335.3,343.86 L335.51,344.06 L335.73,344.25 L335.95,344.45 L336.16,344.64 L336.38,344.84 L336.6,345.03 L336.81,345.23 L337.03,345.43 L337.25,345.62 L337.46,345.82 L337.68,346.01 L337.9,346.21 L338.11,346.4 L338.33,346.6 L338.55,346.79 L338.76,346.99 L338.98,347.19 L339.2,347.38 L339.41,347.58 L339.63,347.77 L339.85,347.97 L340.06,348.16 L340.28,348.36 L340.5,348.56 L340.71,348.75 L340.93,348.95 L341.15,349.14 L341.36,349.34 L341.58,349.53 L341.8,349.73 L342.01,349.92 L342.23,350.12 L342.45,350.32 L342.66,350.51 L342.88,350.71 L343.1,350.9 L343.2,351Z" fill="#1f77b4" fill-opacity="0.4" stroke="none"/></g><g clip-path="url(#ax)" stroke="#bcbcbc" stroke-width="0.85" fill="none"><line x1="70.6" y1="382" x2="450.0" y2="382"/><line x1="70.6" y1="361.58" x2="450.0" y2="361.58"/><line x1="70.6" y1="338.75" x2="450.0" y2="338.75"/><line x1="70.6" y1="312.88" x2="450.0" y2="312.88"/><line x1="70.6" y1="283" x2="450.0" y2="283"/><line x1="70.6" y1="247.67" x2="450.0" y2="247.67"/><line x1="70.6" y1="204.42" x2="450.0" y2="204.42"/><line x1="70.6" y1="148.67" x2="450.0" y2="148.67"/><line x1="70.6" y1="70.09" x2="450.0" y2="70.09"/><line x1="-417.2" y1="391.4" x2="-200.36" y2="5.9"/><line x1="-363" y1="391.4" x2="-146.16" y2="5.9"/><line x1="-308.8" y1="391.4" x2="-91.96" y2="5.9"/><line x1="-254.6" y1="391.4" x2="-37.76" y2="5.9"/><line x1="-200.4" y1="391.4" x2="16.44" y2="5.9"/><line x1="-146.2" y1="391.4" x2="70.64" y2="5.9"/><line x1="-92" y1="391.4" x2="124.84" y2="5.9"/><line x1="-37.8" y1="391.4" x2="179.04" y2="5.9"/><line x1="16.4" y1="391.4" x2="233.24" y2="5.9"/><line x1="70.6" y1="391.4" x2="287.44" y2="5.9"/><line x1="124.8" y1="391.4" x2="341.64" y2="5.9"/><line x1="179" y1="391.4" x2="395.84" y2="5.9"/><line x1="233.2" y1="391.4" x2="450.04" y2="5.9"/><line x1="287.4" y1="391.4" x2="504.24" y2="5.9"/><line x1="341.6" y1="391.4" x2="558.44" y2="5.9"/><line x1="395.8" y1="391.4" x2="612.64" y2="5.9"/><line x1="450" y1="391.4" x2="666.84" y2="5.9"/></g><g clip-path="url(#ax)" stroke="#ff0000" stroke-opacity="0.5" stroke-width="1.25" fill="none" stroke-dasharray="4.12,1.78"><polyline points="75.89,382 71.22,378.61 66.51,375.16 61.74,371.64 56.93,368.06 52.05,364.42 47.13,360.7 42.15,356.91 37.1,353.05 32,349.1 26.84,345.08 21.61,340.97 16.31,336.77 10.95,332.47 5.52,328.08 0.01,323.59 -5.57,318.99 -11.23,314.28 -16.98,309.46 -22.8,304.51 -28.72,299.42 -34.72,294.21 -40.83,288.85 -47.02,283.33 -53.33,277.66 -59.74,271.81 -66.26,265.78 -72.9,259.56 -79.66,253.13 -86.55,246.48 -93.58,239.59 -100.75,232.45 -108.07,225.04 -115.55,217.33 -123.19,209.3 -131.02,200.93 -139.03,192.18 -147.25,183.01 -155.68,173.39 -164.34,163.27 -173.25,152.59 -182.42,141.28 -191.88,129.27 -201.65,116.47 -211.76,102.77 -222.25,88.02 -233.14,72.06 -244.49,54.66 -256.34,35.55 -268.75,14.34"/><polyline points="130.09,382 125.15,378.61 120.16,375.16 115.12,371.64 110.02,368.06 104.87,364.42 99.65,360.7 94.38,356.91 89.04,353.05 83.64,349.1 78.17,345.08 72.63,340.97 67.02,336.77 61.33,332.47 55.58,328.08 49.74,323.59 43.82,318.99 37.82,314.28 31.73,309.46 25.54,304.51 19.27,299.42 12.9,294.21 6.42,288.85 -0.16,283.33 -6.85,277.66 -13.66,271.81 -20.59,265.78 -27.65,259.56 -34.84,253.13 -42.17,246.48 -49.64,239.59 -57.27,232.45 -65.07,225.04 -73.03,217.33 -81.18,209.3 -89.52,200.93 -98.06,192.18 -106.83,183.01 -115.83,173.39 -125.08,163.27 -134.6,152.59 -144.41,141.28 -154.54,129.27 -165.01,116.47 -175.85,102.77 -187.11,88.02 -198.82,72.06 -211.04,54.66 -223.81,35.55 -237.23,14.34"/><polyline points="184.29,382 179.08,378.61 173.82,375.16 168.5,371.64 163.12,368.06 157.68,364.42 152.18,360.7 146.61,356.91 140.97,353.05 135.27,349.1 129.49,345.08 123.65,340.97 117.72,336.77 111.72,332.47 105.63,328.08 99.47,323.59 93.21,318.99 86.87,314.28 80.43,309.46 73.89,304.51 67.26,299.42 60.52,294.21 53.66,288.85 46.7,283.33 39.62,277.66 32.41,271.81 25.07,265.78 17.6,259.56 9.98,253.13 2.22,246.48 -5.71,239.59 -13.8,232.45 -22.06,225.04 -30.51,217.33 -39.16,209.3 -48.02,200.93 -57.09,192.18 -66.41,183.01 -75.98,173.39 -85.82,163.27 -95.95,152.59 -106.4,141.28 -117.2,129.27 -128.37,116.47 -139.94,102.77 -151.97,88.02 -164.5,72.06 -177.58,54.66 -191.29,35.55 -205.71,14.34"/><polyline points="238.49,382 233.01,378.61 227.48,375.16 221.88,371.64 216.22,368.06 210.49,364.42 204.7,360.7 198.84,356.91 192.91,353.05 186.9,349.1 180.82,345.08 174.66,340.97 168.42,336.77 162.1,332.47 155.69,328.08 149.19,323.59 142.6,318.99 135.92,314.28 129.13,309.46 122.24,304.51 115.24,299.42 108.14,294.21 100.91,288.85 93.56,283.33 86.09,277.66 78.48,271.81 70.74,265.78 62.85,259.56 54.8,253.13 46.6,246.48 38.23,239.59 29.68,232.45 20.94,225.04 12,217.33 2.86,209.3 -6.51,200.93 -16.12,192.18 -25.99,183.01 -36.13,173.39 -46.56,163.27 -57.31,152.59 -68.4,141.28 -79.86,129.27 -91.72,116.47 -104.03,102.77 -116.83,88.02 -130.18,72.06 -144.13,54.66 -158.77,35.55 -174.19,14.34"/><polyline points="292.69,382 286.94,378.61 281.13,375.16 275.26,371.64 269.32,368.06 263.31,364.42 257.23,360.7 251.07,356.91 244.84,353.05 238.54,349.1 232.15,345.08 225.68,340.97 219.13,336.77 212.49,332.47 205.75,328.08 198.92,323.59 192,318.99 184.97,314.28 177.83,309.46 170.59,304.51 163.23,299.42 155.76,294.21 148.15,288.85 140.43,283.33 132.56,277.66 124.56,271.81 116.4,265.78 108.1,259.56 99.63,253.13 90.99,246.48 82.16,239.59 73.15,232.45 63.94,225.04 54.52,217.33 44.87,209.3 34.99,200.93 24.85,192.18 14.43,183.01 3.72,173.39 -7.3,163.27 -18.66,152.59 -30.39,141.28 -42.52,129.27 -55.08,116.47 -68.12,102.77 -81.7,88.02 -95.86,72.06 -110.68,54.66 -126.25,35.55 -142.67,14.34"/><polyline points="346.89,382 340.87,378.61 334.79,375.16 328.64,371.64 322.41,368.06 316.12,364.42 309.75,360.7 303.3,356.91 296.78,353.05 290.17,349.1 283.48,345.08 276.7,340.97 269.83,336.77 262.87,332.47 255.81,328.08 248.65,323.59 241.39,318.99 234.02,314.28 226.54,309.46 218.94,304.51 211.22,299.42 203.38,294.21 195.4,288.85 187.29,283.33 179.03,277.66 170.63,271.81 162.07,265.78 153.34,259.56 144.45,253.13 135.37,246.48 126.1,239.59 116.63,232.45 106.95,225.04 97.04,217.33 86.89,209.3 76.49,200.93 65.82,192.18 54.85,183.01 43.57,173.39 31.96,163.27 19.99,152.59 7.62,141.28 -5.17,129.27 -18.44,116.47 -32.21,102.77 -46.56,88.02 -61.54,72.06 -77.23,54.66 -93.73,35.55 -111.14,14.34"/><polyline points="401.09,382 394.8,378.61 388.44,375.16 382.01,371.64 375.51,368.06 368.93,364.42 362.28,360.7 355.54,356.91 348.71,353.05 341.81,349.1 334.81,345.08 327.72,340.97 320.53,336.77 313.25,332.47 305.87,328.08 298.38,323.59 290.78,318.99 283.07,314.28 275.24,309.46 267.29,304.51 259.21,299.42 250.99,294.21 242.64,288.85 234.15,283.33 225.5,277.66 216.7,271.81 207.73,265.78 198.59,259.56 189.27,253.13 179.75,246.48 170.04,239.59 160.11,232.45 149.95,225.04 139.56,217.33 128.91,209.3 117.99,200.93 106.78,192.18 95.27,183.01 83.42,173.39 71.22,163.27 58.63,152.59 45.63,141.28 32.17,129.27 18.21,116.47 3.7,102.77 -11.42,88.02 -27.22,72.06 -43.78,54.66 -61.2,35.55 -79.62,14.34"/><polyline points="455.29,382 448.73,378.61 442.1,375.16 435.39,371.64 428.61,368.06 421.75,364.42 414.8,360.7 407.77,356.91 400.65,353.05 393.44,349.1 386.14,345.08 378.74,340.97 371.24,336.77 363.64,332.47 355.93,328.08 348.11,323.59 340.17,318.99 332.12,314.28 323.94,309.46 315.63,304.51 307.19,299.42 298.61,294.21 289.89,288.85 281.01,283.33 271.98,277.66 262.77,271.81 253.4,265.78 243.84,259.56 234.09,253.13 224.14,246.48 213.97,239.59 203.58,232.45 192.95,225.04 182.07,217.33 170.93,209.3 159.49,200.93 147.75,192.18 135.69,183.01 123.27,173.39 110.48,163.27 97.28,152.59 83.64,141.28 69.51,129.27 54.85,116.47 39.61,102.77 23.72,88.02 7.1,72.06 -10.33,54.66 -28.68,35.55 -48.1,14.34"/></g><g clip-path="url(#ax)" stroke="#0000ff" stroke-opacity="0.5" stroke-width="1.25" fill="none" stroke-dasharray="4.12,1.78"><polyline points="75.89,382 71.58,378.61 67.2,375.16 62.75,371.64 58.22,368.06 53.62,364.42 48.94,360.7 44.18,356.91 39.34,353.05 34.42,349.1 29.43,345.08 24.35,340.97 19.19,336.77 13.94,332.47 8.61,328.08 3.2,323.59 -2.31,318.99 -7.91,314.28 -13.59,309.46 -19.38,304.51 -25.26,299.42 -31.24,294.21 -37.32,288.85 -43.51,283.33 -49.81,277.66 -56.22,271.81 -62.75,265.78 -69.4,259.56 -76.18,253.13 -83.09,246.48 -90.15,239.59 -97.34,232.45 -104.69,225.04 -112.2,217.33 -119.89,209.3 -127.75,200.93 -135.8,192.18 -144.06,183.01 -152.53,173.39 -161.24,163.27 -170.19,152.59 -179.42,141.28 -188.93,129.27 -198.76,116.47 -208.93,102.77 -219.47,88.02 -230.43,72.06 -241.85,54.66 -253.77,35.55 -266.26,14.34"/><polyline points="130.09,382 125.94,378.61 121.69,375.16 117.35,371.64 112.92,368.06 108.38,364.42 103.75,360.7 99.01,356.91 94.17,353.05 89.23,349.1 84.19,345.08 79.04,340.97 73.78,336.77 68.42,332.47 62.94,328.08 57.36,323.59 51.66,318.99 45.85,314.28 39.92,309.46 33.88,304.51 27.72,299.42 21.43,294.21 15.03,288.85 8.5,283.33 1.83,277.66 -4.96,271.81 -11.89,265.78 -18.96,259.56 -26.18,253.13 -33.55,246.48 -41.07,239.59 -48.76,232.45 -56.63,225.04 -64.67,217.33 -72.9,209.3 -81.33,200.93 -89.97,192.18 -98.84,183.01 -107.94,173.39 -117.31,163.27 -126.95,152.59 -136.89,141.28 -147.14,129.27 -157.75,116.47 -168.74,102.77 -180.15,88.02 -192.02,72.06 -204.41,54.66 -217.37,35.55 -230.98,14.34"/><polyline points="184.29,382 180.57,378.61 176.75,375.16 172.82,371.64 168.78,368.06 164.61,364.42 160.33,360.7 155.92,356.91 151.39,353.05 146.72,349.1 141.93,345.08 136.99,340.97 131.92,336.77 126.7,332.47 121.34,328.08 115.83,323.59 110.17,318.99 104.37,314.28 98.4,309.46 92.28,304.51 86.01,299.42 79.57,294.21 72.97,288.85 66.21,283.33 59.28,277.66 52.18,271.81 44.91,265.78 37.47,259.56 29.84,253.13 22.04,246.48 14.04,239.59 5.85,232.45 -2.54,225.04 -11.14,217.33 -19.96,209.3 -29.01,200.93 -38.3,192.18 -47.84,183.01 -57.65,173.39 -67.75,163.27 -78.15,152.59 -88.89,141.28 -99.99,129.27 -111.48,116.47 -123.39,102.77 -135.77,88.02 -148.68,72.06 -162.16,54.66 -176.3,35.55 -191.18,14.34"/><polyline points="238.49,382 235.46,378.61 232.34,375.16 229.11,371.64 225.78,368.06 222.32,364.42 218.75,360.7 215.06,356.91 211.23,353.05 207.26,349.1 203.15,345.08 198.88,340.97 194.46,336.77 189.87,332.47 185.12,328.08 180.18,323.59 175.06,318.99 169.74,314.28 164.22,309.46 158.5,304.51 152.57,299.42 146.41,294.21 140.04,288.85 133.43,283.33 126.59,277.66 119.51,271.81 112.19,265.78 104.62,259.56 96.81,253.13 88.74,246.48 80.41,239.59 71.82,232.45 62.96,225.04 53.83,217.33 44.43,209.3 34.73,200.93 24.75,192.18 14.45,183.01 3.83,173.39 -7.12,163.27 -18.43,152.59 -30.13,141.28 -42.24,129.27 -54.79,116.47 -67.83,102.77 -81.41,88.02 -95.57,72.06 -110.4,54.66 -125.97,35.55 -142.4,14.34"/><polyline points="265.59,382 262.96,378.61 260.24,375.16 257.43,371.64 254.52,368.06 251.51,364.42 248.4,360.7 245.17,356.91 241.81,353.05 238.33,349.1 234.72,345.08 230.96,340.97 227.05,336.77 222.98,332.47 218.74,328.08 214.33,323.59 209.73,318.99 204.93,314.28 199.92,309.46 194.69,304.51 189.24,299.42 183.54,294.21 177.59,288.85 171.39,283.33 164.91,277.66 158.15,271.81 151.11,265.78 143.76,259.56 136.11,253.13 128.15,246.48 119.88,239.59 111.27,232.45 102.34,225.04 93.08,217.33 83.48,209.3 73.53,200.93 63.23,192.18 52.57,183.01 41.54,173.39 30.12,163.27 18.3,152.59 6.05,141.28 -6.66,129.27 -19.85,116.47 -33.57,102.77 -47.87,88.02 -62.81,72.06 -78.46,54.66 -94.92,35.55 -112.3,14.34"/><polyline points="292.69,382 290.45,378.61 288.14,375.16 285.76,371.64 283.29,368.06 280.74,364.42 278.09,360.7 275.35,356.91 272.51,353.05 269.56,349.1 266.49,345.08 263.3,340.97 259.98,336.77 256.51,332.47 252.9,328.08 249.13,323.59 245.18,318.99 241.06,314.28 236.73,309.46 232.2,304.51 227.45,299.42 222.46,294.21 217.22,288.85 211.71,283.33 205.91,277.66 199.81,271.81 193.39,265.78 186.63,259.56 179.51,253.13 172.03,246.48 164.16,239.59 155.89,232.45 147.21,225.04 138.1,217.33 128.56,209.3 118.58,200.93 108.15,192.18 97.27,183.01 85.91,173.39 74.09,163.27 61.77,152.59 48.95,141.28 35.61,129.27 21.7,116.47 7.21,102.77 -7.93,88.02 -23.78,72.06 -40.41,54.66 -57.92,35.55 -76.43,14.34"/><polyline points="319.79,382 317.92,378.61 316,375.16 314.01,371.64 311.97,368.06 309.85,364.42 307.66,360.7 305.4,356.91 303.06,353.05 300.63,349.1 298.1,345.08 295.48,340.97 292.76,336.77 289.92,332.47 286.95,328.08 283.86,323.59 280.63,318.99 277.25,314.28 273.7,309.46 269.98,304.51 266.07,299.42 261.96,294.21 257.62,288.85 253.04,283.33 248.2,277.66 243.08,271.81 237.64,265.78 231.88,259.56 225.76,253.13 219.25,246.48 212.32,239.59 204.94,232.45 197.08,225.04 188.72,217.33 179.82,209.3 170.35,200.93 160.3,192.18 149.65,183.01 138.36,173.39 126.45,163.27 113.88,152.59 100.65,141.28 86.75,129.27 72.15,116.47 56.83,102.77 40.75,88.02 23.85,72.06 6.07,54.66 -12.7,35.55 -32.6,14.34"/><polyline points="346.89,382 345.35,378.61 343.78,375.16 342.15,371.64 340.48,368.06 338.76,364.42 336.99,360.7 335.16,356.91 333.26,353.05 331.31,349.1 329.28,345.08 327.18,340.97 325,336.77 322.74,332.47 320.39,328.08 317.94,323.59 315.39,318.99 312.72,314.28 309.93,309.46 307.01,304.51 303.94,299.42 300.72,294.21 297.33,288.85 293.75,283.33 289.96,277.66 285.95,271.81 281.7,265.78 277.17,259.56 272.34,253.13 267.18,246.48 261.65,239.59 255.71,232.45 249.32,225.04 242.43,217.33 234.99,209.3 226.93,200.93 218.21,192.18 208.77,183.01 198.53,173.39 187.45,163.27 175.49,152.59 162.59,141.28 148.72,129.27 133.87,116.47 118.01,102.77 101.12,88.02 83.17,72.06 64.11,54.66 43.86,35.55 22.3,14.34"/><polyline points="373.99,382 372.74,378.61 371.46,375.16 370.15,371.64 368.8,368.06 367.42,364.42 365.99,360.7 364.53,356.91 363.02,353.05 361.47,349.1 359.87,345.08 358.22,340.97 356.51,336.77 354.74,332.47 352.91,328.08 351.01,323.59 349.04,318.99 346.99,314.28 344.86,309.46 342.63,304.51 340.3,299.42 337.87,294.21 335.31,288.85 332.63,283.33 329.8,277.66 326.82,271.81 323.67,265.78 320.33,259.56 316.77,253.13 312.98,246.48 308.92,239.59 304.57,232.45 299.88,225.04 294.82,217.33 289.32,209.3 283.33,200.93 276.78,192.18 269.58,183.01 261.65,173.39 252.87,163.27 243.12,152.59 232.28,141.28 220.2,129.27 206.76,116.47 191.84,102.77 175.34,88.02 157.2,72.06 137.37,54.66 115.82,35.55 92.49,14.34"/><polyline points="401.09,382 400.08,378.61 399.04,375.16 397.99,371.64 396.91,368.06 395.8,364.42 394.67,360.7 393.51,356.91 392.31,353.05 391.09,349.1 389.84,345.08 388.55,340.97 387.22,336.77 385.85,332.47 384.44,328.08 382.98,323.59 381.48,318.99 379.92,314.28 378.31,309.46 376.64,304.51 374.9,299.42 373.09,294.21 371.2,288.85 369.23,283.33 367.17,277.66 365.02,271.81 362.75,265.78 360.36,259.56 357.84,253.13 355.17,246.48 352.33,239.59 349.31,232.45 346.08,225.04 342.61,217.33 338.87,209.3 334.82,200.93 330.41,192.18 325.58,183.01 320.26,173.39 314.36,163.27 307.77,152.59 300.35,141.28 291.94,129.27 282.32,116.47 271.22,102.77 258.35,88.02 243.34,72.06 225.84,54.66 205.51,35.55 182.12,14.34"/><polyline points="428.19,382 427.37,378.61 426.53,375.16 425.68,371.64 424.81,368.06 423.93,364.42 423.02,360.7 422.1,356.91 421.16,353.05 420.2,349.1 419.21,345.08 418.2,340.97 417.17,336.77 416.11,332.47 415.03,328.08 413.91,323.59 412.76,318.99 411.58,314.28 410.37,309.46 409.11,304.51 407.82,299.42 406.48,294.21 405.1,288.85 403.66,283.33 402.17,277.66 400.62,271.81 399,265.78 397.31,259.56 395.55,253.13 393.69,246.48 391.74,239.59 389.68,232.45 387.5,225.04 385.19,217.33 382.73,209.3 380.09,200.93 377.25,192.18 374.18,183.01 370.84,173.39 367.19,163.27 363.16,152.59 358.68,141.28 353.65,129.27 347.95,116.47 341.39,102.77 333.74,88.02 324.68,72.06 313.75,54.66 300.32,35.55 283.49,14.34"/><polyline points="455.29,382 454.62,378.61 453.93,375.16 453.24,371.64 452.54,368.06 451.82,364.42 451.1,360.7 450.36,356.91 449.6,353.05 448.84,349.1 448.06,345.08 447.27,340.97 446.46,336.77 445.63,332.47 444.79,328.08 443.93,323.59 443.05,318.99 442.15,314.28 441.22,309.46 440.28,304.51 439.31,299.42 438.31,294.21 437.29,288.85 436.23,283.33 435.15,277.66 434.03,271.81 432.87,265.78 431.67,259.56 430.43,253.13 429.14,246.48 427.79,239.59 426.39,232.45 424.92,225.04 423.38,217.33 421.76,209.3 420.05,200.93 418.24,192.18 416.31,183.01 414.25,173.39 412.03,163.27 409.63,152.59 407.01,141.28 404.13,129.27 400.94,116.47 397.36,102.77 393.29,88.02 388.58,72.06 383.04,54.66 376.36,35.55 368.07,14.34"/></g><g clip-path="url(#ax)"><line x1="233.2" y1="391.4" x2="450.04" y2="5.9" stroke="#00bfbf" stroke-width="1.6" stroke-dasharray="5.5,2.38"/><polyline points="384.5,384 355.5,362.1 329.8,338.9 302.2,312.4 274.2,283.5 262.6,270 253.1,259.2 242.6,247.4 231.4,235 219.6,219.8 206.75,204.4 192,185.8 184.6,176.3 171.7,162.3 162,148.7 155.7,138 139.3,115.4 129.4,98.5 126.4,90.6 135.7,70.5 147.5,45.7 172.3,5.9 182.3,-10" fill="none" stroke="#ff0000" stroke-width="1.5" stroke-linejoin="round" stroke-linecap="butt"/><polyline points="340.5,384 341.7,372.9 341,362 321,346.5 310.5,338.8 294.5,325 278.9,312.4 272,306.8 250,287.8 244.4,283.2 220,261.1 211.7,255 205,247.4 160.5,204.2 145.5,189.5 123.6,162.5 111.4,148.5 90.3,134.1 85.3,119.7 69.1,105 62,90.1 70.06,75.9 95.6,6.4 101.5,-10" fill="none" stroke="#008000" stroke-width="1.5" stroke-linejoin="round" stroke-linecap="butt"/><polyline points="384.03,383.8 364.4,373 345.01,362.1 343.25,361.1 338.55,351 332.95,339.4 327.21,328 320.85,315.9 314.4,304.2 307.07,291.6 299.57,279.4 291.63,267.2 282.84,254.5 273.84,242.3 263.55,229.2 252.64,216.2 240.92,203.1 227.89,189.4 214.72,176.3 199.95,162.3 184.47,148.2 168.43,134 152.12,119.8 135,105 117.83,90.1 101.66,75.9 85.33,61.3 69.05,46.4 53.3,31.6 37.91,16.7" fill="none" stroke="#000000" stroke-width="1.75" stroke-linejoin="round" stroke-linecap="butt"/></g><g clip-path="url(#bb)"><path d="M450,383.8 L466.76,376.69 L471.7,382.5 L466.76,376.69 L450,383.8 M450,373 L468.07,370.78 L464.68,371.2 L466.25,374.67 L464.68,371.2 L450,373 M450,362.1 L467.74,366.2 L464.41,365.43 L464.7,369.23 L464.41,365.43 L450,362.1 M450,351 L462.87,363.87 L460.46,361.46 L458.69,364.84 L460.46,361.46 L450,351 M450,339.4 L450,357.6 L450,354.19 L446.36,355.33 L450,354.19 L450,339.4 M450,328 L438.79,342.35 L440.89,339.66 L437.32,338.31 L440.89,339.66 L450,328 M450,315.9 L434.23,325 L437.19,323.3 L434.38,320.71 L437.19,323.3 L450,315.9 M450,304.2 L433,310.72 L428.27,304.74 L433,310.72 L450,304.2 M450,291.6 L433,298.12 L428.27,292.14 L433,298.12 L450,291.6 M450,279.4 L432.42,284.11 L428.33,277.67 L432.42,284.11 L434.61,283.52 L432.57,280.3 L434.61,283.52 L450,279.4 M450,267.2 L432.19,270.99 L428.45,264.34 L432.19,270.99 L434.42,270.51 L430.68,263.86 L434.42,270.51 L450,267.2 M450,254.5 L432.07,257.66 L428.57,250.89 L432.07,257.66 L434.31,257.27 L430.81,250.49 L434.31,257.27 L450,254.5 M450,242.3 L431.97,244.83 L428.71,237.94 L431.97,244.83 L434.23,244.52 L430.96,237.62 L434.23,244.52 L436.48,244.2 L434.85,240.75 L436.48,244.2 L450,242.3 M450,229.2 L431.97,231.73 L428.71,224.84 L431.97,231.73 L434.23,231.42 L430.96,224.52 L434.23,231.42 L436.48,231.1 L434.85,227.65 L436.48,231.1 L450,229.2 M450,216.2 L431.97,218.73 L428.71,211.84 L431.97,218.73 L434.23,218.42 L430.96,211.52 L434.23,218.42 L436.48,218.1 L434.85,214.65 L436.48,218.1 L450,216.2 M450,203.1 L431.97,205.63 L428.71,198.74 L431.97,205.63 L434.23,205.32 L430.96,198.42 L434.23,205.32 L436.48,205 L434.85,201.55 L436.48,205 L450,203.1 M450,189.4 L431.97,191.93 L428.71,185.04 L431.97,191.93 L434.23,191.62 L430.96,184.72 L434.23,191.62 L436.48,191.3 L434.85,187.85 L436.48,191.3 L450,189.4 M450,176.3 L431.97,178.83 L428.71,171.94 L431.97,178.83 L434.23,178.52 L430.96,171.62 L434.23,178.52 L436.48,178.2 L434.85,174.75 L436.48,178.2 L450,176.3 M450,162.3 L431.97,164.83 L428.71,157.94 L431.97,164.83 L434.23,164.52 L430.96,157.62 L434.23,164.52 L436.48,164.2 L434.85,160.75 L436.48,164.2 L450,162.3 M450,148.2 L431.97,150.73 L428.71,143.84 L431.97,150.73 L434.23,150.42 L430.96,143.52 L434.23,150.42 L436.48,150.1 L434.85,146.65 L436.48,150.1 L450,148.2 M450,134 L431.97,136.53 L428.71,129.64 L431.97,136.53 L434.23,136.22 L430.96,129.32 L434.23,136.22 L436.48,135.9 L434.85,132.45 L436.48,135.9 L450,134 M450,119.8 L431.97,122.33 L428.71,115.44 L431.97,122.33 L434.23,122.02 L430.96,115.12 L434.23,122.02 L436.48,121.7 L434.85,118.25 L436.48,121.7 L450,119.8 M450,105 L431.97,107.53 L428.71,100.64 L431.97,107.53 L434.23,107.22 L430.96,100.32 L434.23,107.22 L436.48,106.9 L434.85,103.45 L436.48,106.9 L450,105 M450,90.1 L431.97,92.63 L428.71,85.74 L431.97,92.63 L434.23,92.32 L430.96,85.42 L434.23,92.32 L436.48,92 L434.85,88.55 L436.48,92 L450,90.1 M450,75.9 L431.97,78.43 L428.71,71.54 L431.97,78.43 L434.23,78.12 L430.96,71.22 L434.23,78.12 L436.48,77.8 L434.85,74.35 L436.48,77.8 L450,75.9 M450,61.3 L431.97,63.83 L428.71,56.94 L431.97,63.83 L434.23,63.52 L430.96,56.62 L434.23,63.52 L436.48,63.2 L434.85,59.75 L436.48,63.2 L450,61.3 M450,46.4 L431.97,48.93 L428.71,42.04 L431.97,48.93 L434.23,48.62 L430.96,41.72 L434.23,48.62 L436.48,48.3 L434.85,44.85 L436.48,48.3 L450,46.4 M450,31.6 L431.97,34.13 L428.71,27.24 L431.97,34.13 L434.23,33.82 L430.96,26.92 L434.23,33.82 L436.48,33.5 L434.85,30.05 L436.48,33.5 L450,31.6 M450,16.7 L431.97,19.23 L428.71,12.34 L431.97,19.23 L434.23,18.92 L430.96,12.02 L434.23,18.92 L436.48,18.6 L434.85,15.15 L436.48,18.6 L450,16.7" fill="none" stroke="#000" stroke-width="0.95" stroke-linejoin="miter" stroke-miterlimit="4"/></g><rect x="70.6" y="5.9" width="379.4" height="385.5" fill="none" stroke="#333" stroke-width="0.85"/><g stroke="#333" stroke-width="0.85"><line x1="68" y1="382" x2="70.6" y2="382"/><line x1="68" y1="361.58" x2="70.6" y2="361.58"/><line x1="68" y1="338.75" x2="70.6" y2="338.75"/><line x1="68" y1="312.88" x2="70.6" y2="312.88"/><line x1="68" y1="283" x2="70.6" y2="283"/><line x1="68" y1="247.67" x2="70.6" y2="247.67"/><line x1="68" y1="204.42" x2="70.6" y2="204.42"/><line x1="68" y1="148.67" x2="70.6" y2="148.67"/><line x1="68" y1="70.09" x2="70.6" y2="70.09"/><line x1="70.6" y1="391.4" x2="70.6" y2="394"/><line x1="124.8" y1="391.4" x2="124.8" y2="394"/><line x1="179" y1="391.4" x2="179" y2="394"/><line x1="233.2" y1="391.4" x2="233.2" y2="394"/><line x1="287.4" y1="391.4" x2="287.4" y2="394"/><line x1="341.6" y1="391.4" x2="341.6" y2="394"/><line x1="395.8" y1="391.4" x2="395.8" y2="394"/><line x1="450" y1="391.4" x2="450" y2="394"/><line x1="450.0" y1="14.6" x2="452.6" y2="14.6"/><line x1="450.0" y1="69.3" x2="452.6" y2="69.3"/><line x1="450.0" y1="125.5" x2="452.6" y2="125.5"/><line x1="450.0" y1="180.4" x2="452.6" y2="180.4"/><line x1="450.0" y1="235.5" x2="452.6" y2="235.5"/><line x1="450.0" y1="290.5" x2="452.6" y2="290.5"/><line x1="450.0" y1="345.4" x2="452.6" y2="345.4"/></g><g font-family="Liberation Sans, sans-serif" font-size="15.8" fill="#000" stroke="#000" stroke-width="0.25"><text x="64.3" y="388.3" text-anchor="end" textLength="36.8" lengthAdjust="spacingAndGlyphs">1000</text><text x="64.3" y="367.88" text-anchor="end" textLength="27.5" lengthAdjust="spacingAndGlyphs">900</text><text x="64.3" y="345.05" text-anchor="end" textLength="27.5" lengthAdjust="spacingAndGlyphs">800</text><text x="64.3" y="319.18" text-anchor="end" textLength="27.5" lengthAdjust="spacingAndGlyphs">700</text><text x="64.3" y="289.3" text-anchor="end" textLength="27.5" lengthAdjust="spacingAndGlyphs">600</text><text x="64.3" y="253.97" text-anchor="end" textLength="27.5" lengthAdjust="spacingAndGlyphs">500</text><text x="64.3" y="210.72" text-anchor="end" textLength="27.5" lengthAdjust="spacingAndGlyphs">400</text><text x="64.3" y="154.97" text-anchor="end" textLength="27.5" lengthAdjust="spacingAndGlyphs">300</text><text x="64.3" y="76.39" text-anchor="end" textLength="27.5" lengthAdjust="spacingAndGlyphs">200</text><text x="55.65" y="408.9" textLength="30.5" lengthAdjust="spacingAndGlyphs">−30</text><text x="109.85" y="408.9" textLength="30.5" lengthAdjust="spacingAndGlyphs">−20</text><text x="164.05" y="408.9" textLength="30.5" lengthAdjust="spacingAndGlyphs">−10</text><text x="229" y="408.9" textLength="9" lengthAdjust="spacingAndGlyphs">0</text><text x="278.5" y="408.9" textLength="18.4" lengthAdjust="spacingAndGlyphs">10</text><text x="332.7" y="408.9" textLength="18.4" lengthAdjust="spacingAndGlyphs">20</text><text x="386.9" y="408.9" textLength="18.4" lengthAdjust="spacingAndGlyphs">30</text><text x="441.1" y="408.9" textLength="18.4" lengthAdjust="spacingAndGlyphs">40</text><text x="455.6" y="20.6" textLength="18.4" lengthAdjust="spacingAndGlyphs">14</text><text x="455.6" y="75.3" textLength="18.4" lengthAdjust="spacingAndGlyphs">12</text><text x="455.6" y="131.5" textLength="18.4" lengthAdjust="spacingAndGlyphs">10</text><text x="455.6" y="186.4" textLength="9" lengthAdjust="spacingAndGlyphs">8</text><text x="455.6" y="241.5" textLength="9" lengthAdjust="spacingAndGlyphs">6</text><text x="455.6" y="296.5" textLength="9" lengthAdjust="spacingAndGlyphs">4</text><text x="455.6" y="351.4" textLength="9" lengthAdjust="spacingAndGlyphs">2</text></g><text x="187" y="429.8" font-family="Liberation Sans, sans-serif" font-size="19.3" stroke="#000" stroke-width="0.25" textLength="145.5" lengthAdjust="spacingAndGlyphs">Temperature (C)</text><text x="19" y="265.2" transform="rotate(-90 19 265.2)" font-family="Liberation Sans, sans-serif" font-size="19.3" stroke="#000" stroke-width="0.25" textLength="129.5" lengthAdjust="spacingAndGlyphs">Pressure (hPa)</text><text x="490.9" y="253" transform="rotate(-90 490.9 253)" font-family="Liberation Sans, sans-serif" font-size="19.3" stroke="#000" stroke-width="0.25" textLength="109" lengthAdjust="spacingAndGlyphs">Height (km)</text></svg></body></html>
